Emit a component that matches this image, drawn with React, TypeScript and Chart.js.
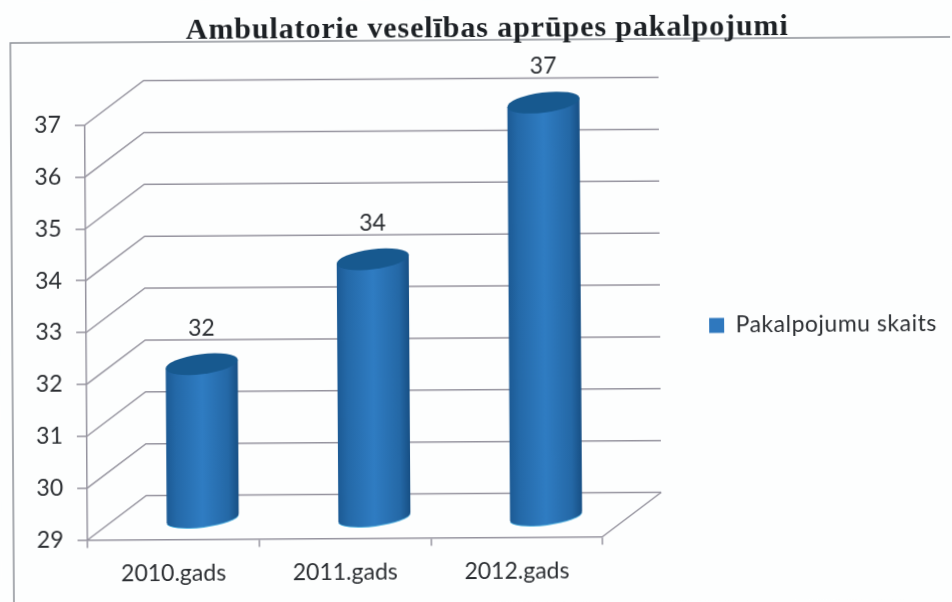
import React, { useEffect, useRef } from "react";
import { Chart, registerables } from "chart.js";

Chart.register(...registerables);

const categories = ["2010.gads", "2011.gads", "2012.gads"];
const seriesName = "Pakalpojumu skaits";
const seriesValues = [32, 34, 37];
const titleText = "Ambulatorie veselības aprūpes pakalpojumi";
const axisMin = 29;
const axisMax = 37;

const LINE = "#96949f";
const TEXT = "#2b2e32";
const UI_FONT = "Lato";
const DEPTH = { x: 59, y: 44 };
const BAR_SHIFT = { x: 29.5, y: 19.5, base: 21 };
const TILT = (-7 * Math.PI) / 180;

function spaced(box: any, chart: any, spacing: string) {
  if (box.__spaced) return;
  box.__spaced = true;
  const draw = box.draw;
  box.draw = function (...args: any[]) {
    chart.ctx.letterSpacing = spacing;
    draw.apply(this, args);
    chart.ctx.letterSpacing = "0px";
  };
}

const scene3d = {
  id: "scene3d",
  beforeLayout(chart: any) {
    const legend = chart.legend;
    if (legend && !legend.__fixed) {
      legend.__fixed = true;
      const fit = legend.fit;
      legend.fit = function () {
        fit.call(this);
        this.width = 240;
      };
    }
    spaced(chart.titleBlock, chart, "0.9px");
    spaced(legend, chart, "0.5px");
  },
  afterLayout(chart: any) {
    chart.titleBlock.left += 68.5;
    chart.titleBlock.right += 68.5;
    chart.legend.left += 98;
    chart.legend.right += 98;
    chart.legend.top += 26;
    chart.legend.bottom += 26;
  },
  beforeDraw(chart: any) {
    const { ctx, width, height } = chart;
    ctx.save();
    ctx.fillStyle = "#fdfefe";
    ctx.fillRect(0, 0, width, height);
    ctx.strokeStyle = "#8d9198";
    ctx.lineWidth = 1.5;
    ctx.beginPath();
    ctx.moveTo(12, height + 10);
    ctx.lineTo(12, 40);
    ctx.lineTo(width + 10, 40);
    ctx.stroke();
    ctx.restore();
  },
  beforeDatasetsDraw(chart: any) {
    const { ctx, chartArea: a, scales } = chart;
    ctx.save();
    ctx.strokeStyle = LINE;
    ctx.lineWidth = 1.5;
    scales.y.ticks.forEach((t: any) => {
      const y = scales.y.getPixelForValue(t.value);
      ctx.beginPath();
      ctx.moveTo(a.left, y);
      ctx.lineTo(a.left + DEPTH.x, y - DEPTH.y);
      ctx.lineTo(a.right + DEPTH.x, y - DEPTH.y);
      ctx.stroke();
    });
    ctx.beginPath();
    ctx.moveTo(a.right, a.bottom);
    ctx.lineTo(a.right + DEPTH.x, a.bottom - DEPTH.y);
    ctx.stroke();
    ctx.restore();
  },
  beforeDatasetDraw(chart: any, args: any) {
    const { ctx, scales } = chart;
    const meta = args.meta;
    ctx.save();
    meta.data.forEach((bar: any, i: number) => {
      const cx = bar.x + BAR_SHIFT.x;
      const half = bar.width / 2;
      const topY = bar.y - BAR_SHIFT.y;
      const baseY = scales.y.getPixelForValue(axisMin) - BAR_SHIFT.base;
      const rx = half / Math.cos(TILT);
      const ry = 8.5;
      const ox = half;
      const oy = rx * Math.sin(TILT);

      const grad = ctx.createLinearGradient(cx - half, 0, cx + half, 0);
      grad.addColorStop(0, "#1c5a94");
      grad.addColorStop(0.14, "#2469a8");
      grad.addColorStop(0.5, "#2f7cc2");
      grad.addColorStop(0.86, "#2468a6");
      grad.addColorStop(1, "#174f84");

      // light rim under the base
      ctx.beginPath();
      ctx.ellipse(cx, baseY + 1, rx, ry, TILT, 0, Math.PI);
      ctx.fillStyle = "#58b4e0";
      ctx.fill();

      ctx.beginPath();
      ctx.moveTo(cx - ox, topY - oy);
      ctx.lineTo(cx - ox, baseY - oy);
      ctx.ellipse(cx, baseY, rx, ry, TILT, Math.PI, 0, true);
      ctx.lineTo(cx + ox, topY + oy);
      ctx.closePath();
      ctx.fillStyle = grad;
      ctx.fill();

      ctx.beginPath();
      ctx.ellipse(cx, topY, rx, ry + 1.5, TILT, 0, Math.PI * 2);
      ctx.fillStyle = "#17598f";
      ctx.fill();

      ctx.fillStyle = TEXT;
      ctx.font = `23px ${UI_FONT}`;
      ctx.textAlign = "center";
      ctx.textBaseline = "middle";
      ctx.fillText(String(seriesValues[i]), cx, topY - 36);
    });
    ctx.restore();
    return false;
  },
};

export default function App() {
  const ref = useRef<HTMLCanvasElement | null>(null);

  useEffect(() => {
    document.body.style.margin = "0";
    document.body.style.background = "#fdfefe";
    const chart = new Chart(ref.current as HTMLCanvasElement, {
      type: "bar",
      data: {
        labels: categories,
        datasets: [
          {
            label: seriesName,
            data: seriesValues,
            backgroundColor: "#2f78be",
            barPercentage: 0.42,
            categoryPercentage: 1,
          },
        ],
      },
      options: {
        animation: false,
        responsive: false,
        layout: { padding: { top: 0, left: 0, bottom: 0, right: 111 } },
        plugins: {
          tooltip: { enabled: false },
          title: {
            display: true,
            text: titleText,
            color: "#1c2024",
            font: { family: "'Liberation Serif'", size: 30, weight: "bold" },
            padding: { top: 11, bottom: 75.5 },
          },
          legend: {
            position: "right",
            labels: {
              color: TEXT,
              font: { family: UI_FONT, size: 23 },
              boxWidth: 15,
              boxHeight: 15,
            },
          },
        },
        scales: {
          x: {
            afterFit: (s: any) => {
              s.height = 64.5;
            },
            grid: {
              drawOnChartArea: false,
              color: LINE,
              tickLength: 8,
              lineWidth: 1.5,
            },
            border: { color: LINE, width: 1.5 },
            ticks: {
              color: TEXT,
              font: { family: UI_FONT, size: 23 },
              padding: 12,
            },
          },
          y: {
            min: axisMin,
            max: axisMax,
            afterFit: (s: any) => {
              s.width = 86;
            },
            grid: {
              drawOnChartArea: false,
              color: LINE,
              tickLength: 10,
              lineWidth: 1.5,
            },
            border: { color: LINE, width: 1.5 },
            ticks: {
              stepSize: 1,
              color: TEXT,
              font: { family: UI_FONT, size: 23 },
              padding: 14,
            },
          },
        },
      },
      plugins: [scene3d],
    } as any);
    return () => chart.destroy();
  }, []);

  return (
    <div style={{ position: "fixed", left: 0, top: 0, width: 952, height: 602, overflow: "hidden" }}>
      <canvas
        ref={ref}
        width={952}
        height={602}
        style={{ display: "block", transform: "rotate(-0.37deg)", transformOrigin: "476px 301px" }}
      />
    </div>
  );
}
